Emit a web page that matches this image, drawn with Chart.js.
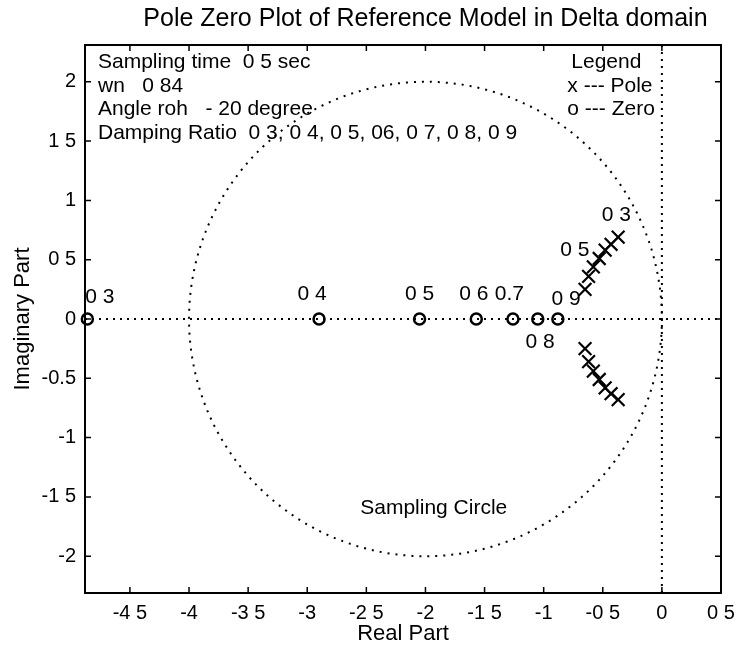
<!DOCTYPE html>
<html>
<head>
<meta charset="utf-8">
<script src="https://cdn.jsdelivr.net/npm/chart.js@4.4.1/dist/chart.umd.min.js"></script>
<style>
  html, body { margin: 0; padding: 0; background: #fff; }
  #wrap { width: 737px; height: 650px; }
</style>
</head>
<body>
<div id="wrap"><canvas id="pzChart" width="737" height="650"></canvas></div>
<script>
const FONT = '"Liberation Sans", Arial, sans-serif';

// poles for damping ratio 0.3 ... 0.9 (upper and lower half plane)
const poleReal = [-0.37, -0.43, -0.48, -0.53, -0.58, -0.62, -0.65];
const poleImagUpper = [0.69, 0.63, 0.58, 0.51, 0.44, 0.36, 0.25];
const poleImagLower = [-0.68, -0.63, -0.58, -0.51, -0.44, -0.36, -0.25];

// zeros, all on the real axis
const zeroReal = [-4.86, -2.90, -2.05, -1.57, -1.26, -1.05, -0.88];
const zeroImag = [0, 0, 0, 0, 0, 0, 0];

// sampling circle in the delta plane
const circleCenter = -2;
const circleRadius = 2;

const xMin = -4.88, xMax = 0.5;
const yMin = -2.31, yMax = 2.31;
const xTickValues = [-4.5, -4, -3.5, -3, -2.5, -2, -1.5, -1, -0.5, 0, 0.5];
const xTickLabels = ['-4 5', '-4', '-3 5', '-3', '-2 5', '-2', '-1 5', '-1', '-0 5', '0', '0 5'];
const yTickValues = [-2, -1.5, -1, -0.5, 0, 0.5, 1, 1.5, 2];
const yTickLabels = ['-2', '-1 5', '-1', '-0.5', '0', '0 5', '1', '1 5', '2'];

const titleText = 'Pole Zero Plot of Reference Model in Delta domain';

// damping ratio tags next to the markers
const tagText = ['0 3', '0 4', '0 5', '0 6', '0.7', '0 8', '0 9', '0 3', '0 5'];
const tagX = [-4.755, -2.96, -2.05, -1.59, -1.29, -1.03, -0.81, -0.385, -0.736];
const tagY = [0.185, 0.21, 0.21, 0.21, 0.21, -0.194, 0.169, 0.877, 0.582];

const noteLines = [
  'Sampling time  0 5 sec',
  'wn   0 84',
  'Angle roh   - 20 degree',
  'Damping Ratio  0 3, 0 4, 0 5, 06, 0 7, 0 8, 0 9'
];
const noteX = -4.77;
const noteY = [2.167, 1.965, 1.771, 1.568];

const legendLines = ['Legend', 'x --- Pole', 'o --- Zero'];
const legendX = [-0.47, -0.80, -0.80];
const legendY = [2.167, 1.965, 1.771];
const legendAlign = ['center', 'left', 'left'];

const circleLabel = 'Sampling Circle';
const circleLabelX = -1.93, circleLabelY = -1.594;

const toPoints = (xs, ys) => xs.map((v, i) => ({ x: v, y: ys[i] }));

// dotted sampling circle, drawn under the markers
const samplingCircle = {
  id: 'samplingCircle',
  beforeDatasetsDraw(chart) {
    const { ctx, scales: { x, y } } = chart;
    const cx = x.getPixelForValue(circleCenter);
    const cy = y.getPixelForValue(0);
    const rx = x.getPixelForValue(circleCenter + circleRadius) - cx;
    const ry = cy - y.getPixelForValue(circleRadius);
    ctx.save();
    ctx.strokeStyle = '#000';
    ctx.lineWidth = 2;
    ctx.setLineDash([2, 6]);
    ctx.beginPath();
    ctx.ellipse(cx, cy, rx, ry, 0, 0, Math.PI * 2);
    ctx.stroke();
    ctx.restore();
  }
};

// axes box with inward tick marks on all four sides
const axisBox = {
  id: 'axisBox',
  afterDatasetsDraw(chart) {
    const { ctx, chartArea: a, scales: { x, y } } = chart;
    ctx.save();
    ctx.strokeStyle = '#000';
    ctx.lineWidth = 2;
    ctx.strokeRect(a.left, a.top, a.right - a.left, a.bottom - a.top);
    ctx.lineWidth = 1.5;
    ctx.beginPath();
    xTickValues.forEach(v => {
      const px = x.getPixelForValue(v);
      ctx.moveTo(px, a.top); ctx.lineTo(px, a.top + 6);
      ctx.moveTo(px, a.bottom); ctx.lineTo(px, a.bottom - 6);
    });
    yTickValues.forEach(v => {
      const py = y.getPixelForValue(v);
      ctx.moveTo(a.left, py); ctx.lineTo(a.left + 6, py);
      ctx.moveTo(a.right, py); ctx.lineTo(a.right - 6, py);
    });
    ctx.stroke();
    ctx.restore();
  }
};

// title and text annotations, placed in data coordinates
const annotations = {
  id: 'annotations',
  afterDraw(chart) {
    const { ctx, chartArea: a, scales: { x, y } } = chart;
    ctx.save();
    ctx.fillStyle = '#000';
    ctx.textBaseline = 'middle';

    ctx.font = '25px ' + FONT;
    ctx.textAlign = 'center';
    ctx.fillText(titleText, x.getPixelForValue(circleCenter), a.top - 26);

    ctx.font = '21px ' + FONT;
    tagText.forEach((t, i) => ctx.fillText(t, x.getPixelForValue(tagX[i]), y.getPixelForValue(tagY[i])));

    ctx.textAlign = 'left';
    noteLines.forEach((t, i) => ctx.fillText(t, x.getPixelForValue(noteX), y.getPixelForValue(noteY[i])));

    legendLines.forEach((t, i) => {
      ctx.textAlign = legendAlign[i];
      ctx.fillText(t, x.getPixelForValue(legendX[i]), y.getPixelForValue(legendY[i]));
    });

    ctx.textAlign = 'center';
    ctx.fillText(circleLabel, x.getPixelForValue(circleLabelX), y.getPixelForValue(circleLabelY));
    ctx.restore();
  }
};

const dotted = {
  showLine: true,
  borderColor: '#000',
  borderWidth: 2,
  borderDash: [2, 5],
  pointRadius: 0,
  fill: false
};

const ctx = document.getElementById('pzChart').getContext('2d');
const pzChart = new Chart(ctx, {
  type: 'scatter',
  data: {
    datasets: [
      Object.assign({ label: 'real axis', data: [{ x: xMin, y: 0 }, { x: xMax, y: 0 }] }, dotted),
      Object.assign({ label: 'imaginary axis', data: [{ x: 0, y: yMin }, { x: 0, y: yMax }] }, dotted),
      {
        label: 'Zero',
        data: toPoints(zeroReal, zeroImag),
        pointStyle: 'circle',
        pointRadius: 5.5,
        borderWidth: 2.5,
        borderColor: '#000',
        backgroundColor: '#fff',
        clip: false
      },
      {
        label: 'Pole',
        data: toPoints(poleReal, poleImagUpper),
        pointStyle: 'crossRot',
        pointRadius: 9,
        borderWidth: 2.2,
        borderColor: '#000'
      },
      {
        label: 'Pole (conjugate)',
        data: toPoints(poleReal, poleImagLower),
        pointStyle: 'crossRot',
        pointRadius: 9,
        borderWidth: 2.2,
        borderColor: '#000'
      }
    ]
  },
  options: {
    responsive: false,
    animation: false,
    events: [],
    layout: { padding: { left: 0, right: 16, top: 45, bottom: 0 } },
    plugins: {
      legend: { display: false },
      tooltip: { enabled: false },
      title: { display: false }
    },
    scales: {
      x: {
        type: 'linear',
        min: xMin,
        max: xMax,
        grid: { display: false, drawTicks: false },
        border: { display: false },
        afterBuildTicks: s => { s.ticks = xTickValues.map(v => ({ value: v })); },
        afterFit: s => { s.height = 57; s.paddingLeft = 0; s.paddingRight = 0; },
        ticks: {
          autoSkip: false,
          maxRotation: 0,
          padding: 8,
          color: '#000',
          font: { family: FONT, size: 20 },
          callback: (v, i) => xTickLabels[i]
        },
        title: {
          display: true,
          text: 'Real Part',
          color: '#000',
          font: { family: FONT, size: 22 },
          padding: { top: 0, bottom: 3 }
        }
      },
      y: {
        type: 'linear',
        min: yMin,
        max: yMax,
        grid: { display: false, drawTicks: false },
        border: { display: false },
        afterBuildTicks: s => { s.ticks = yTickValues.map(v => ({ value: v })); },
        afterFit: s => { s.width = 85; s.paddingTop = 0; s.paddingBottom = 0; },
        ticks: {
          autoSkip: false,
          padding: 9,
          color: '#000',
          font: { family: FONT, size: 20 },
          callback: (v, i) => yTickLabels[i]
        },
        title: {
          display: true,
          text: 'Imaginary Part',
          color: '#000',
          font: { family: FONT, size: 22 },
          padding: { top: 10, bottom: 0 }
        }
      }
    }
  },
  plugins: [samplingCircle, axisBox, annotations]
});
</script>
</body>
</html>
